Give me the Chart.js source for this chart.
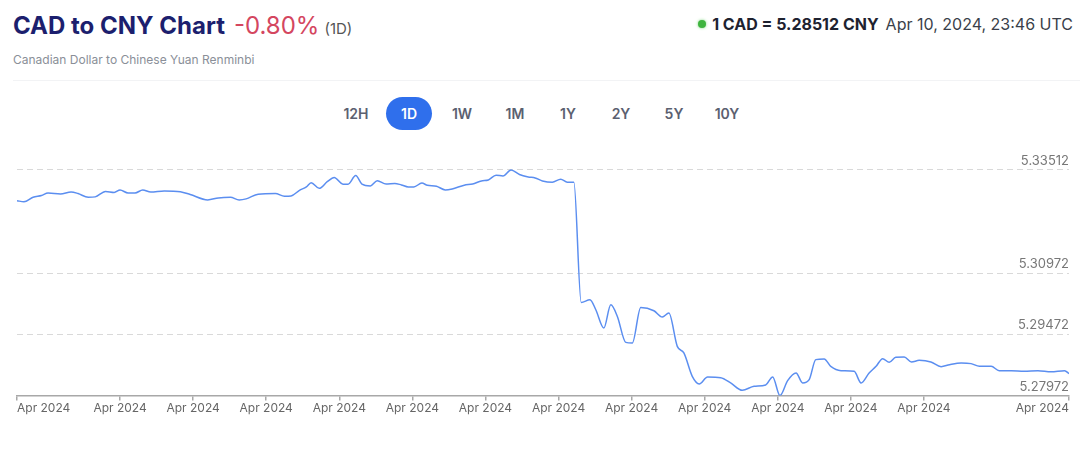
<!DOCTYPE html>
<html>
<head>
<meta charset="utf-8">
<script src="https://cdn.jsdelivr.net/npm/chart.js@4.4.1/dist/chart.umd.min.js"></script>
<style>
  body { margin: 0; width: 1080px; height: 452px; background: #fff; font-family: Inter, "Noto Sans", sans-serif; position: relative; overflow: hidden; }
  .title { position: absolute; left: 13px; top: 11px; white-space: nowrap; }
  .title b { font-size: 24px; color: #1c1f6e; font-weight: 700; }
  .title .chg { font-size: 24px; color: #d4465f; margin-left: 9px; }
  .title .per { font-size: 15px; color: #555; margin-left: 5px; }
  .sub { position: absolute; left: 13px; top: 52px; font-size: 12px; color: #8a8f98; }
  .rate { position: absolute; right: 7px; top: 14px; font-size: 16px; color: #3a3f4a; white-space: nowrap; }
  .rate .dot { display: inline-block; width: 8px; height: 8px; border-radius: 50%; background: #3fb43f; box-shadow: 0 0 3px #7ed67e; margin-right: 6px; vertical-align: 2px; }
  .rate b { color: #1e2230; font-weight: 700; margin-right: 7px; }
  .sep { position: absolute; left: 13px; right: 0; top: 80px; height: 1px; background: #f2f3f5; }
  .ranges { position: absolute; left: 333px; top: 97px; display: flex; gap: 7px; }
  .ranges span { width: 46px; height: 33px; line-height: 33px; text-align: center; font-size: 14px; font-weight: 600; color: #5b6070; border-radius: 17px; }
  .ranges span.on { background: #2f6fec; color: #fff; }
  #box { position: absolute; left: 0; top: 140px; width: 1080px; height: 290px; }
</style>
</head>
<body>
<div class="title"><b>CAD to CNY Chart</b><span class="chg">-0.80%</span><span class="per">(1D)</span></div>
<div class="sub">Canadian Dollar to Chinese Yuan Renminbi</div>
<div class="rate"><span class="dot"></span><b>1 CAD = 5.28512 CNY</b>Apr 10, 2024, 23:46 UTC</div>
<div class="sep"></div>
<div class="ranges"><span>12H</span><span class="on">1D</span><span>1W</span><span>1M</span><span>1Y</span><span>2Y</span><span>5Y</span><span>10Y</span></div>
<div id="box"><canvas id="grafico"></canvas></div>
<script>
// hours since start of the window
const hours = [0, 0.19, 0.44, 0.67, 0.85, 1.19, 1.48, 1.67, 1.95, 2.14, 2.42, 2.66, 2.82, 3.04, 3.23, 3.44, 3.66, 4.03, 4.47, 4.74,
  5.22, 5.51, 5.84, 6.08, 6.27, 6.60, 7.07, 7.32, 7.50, 7.73, 7.92, 8.05, 8.27, 8.49, 8.68, 8.92, 9.06, 9.27, 9.44, 9.67,
  9.86, 10.10, 10.34, 10.52, 10.71, 10.86, 11.08, 11.23, 11.48, 11.72, 11.91, 12.24, 12.47, 12.71, 12.90, 13.11, 13.30, 13.52, 13.75, 13.99,
  14.18, 14.38, 14.65, 14.88, 15.06, 15.24, 15.44, 15.68, 15.84, 16.06, 16.25, 16.43, 16.66, 16.84, 17.07, 17.43, 17.66, 17.84, 18.07, 18.25,
  18.48, 18.67, 18.90, 19.26, 19.53, 19.85, 20.17, 20.49, 20.68, 20.88, 21.09, 21.32, 21.50, 21.68, 21.86, 22.09, 22.27, 22.55, 22.91, 23.10,
  23.32, 23.51, 23.69, 23.87, 24.05, 24.28, 24.48, 24.69, 25.01, 25.29, 25.52, 25.84, 26.11, 26.34, 26.66, 26.88, 27.21, 27.56, 27.94, 28.30,
  28.67, 28.79];
const rates = [5.32758, 5.32731, 5.32841, 5.32885, 5.32944, 5.32924, 5.32973, 5.32934, 5.32841, 5.32851, 5.32985, 5.32961, 5.33022, 5.32944, 5.32944, 5.33022, 5.32968, 5.32998, 5.32978, 5.32909,
  5.32777, 5.32826, 5.32841, 5.32777, 5.32802, 5.32917, 5.32934, 5.32868, 5.32875, 5.33012, 5.33096, 5.33199, 5.33061, 5.33223, 5.33326, 5.33164, 5.33164, 5.33375, 5.33164, 5.33120,
  5.33248, 5.33169, 5.33182, 5.33145, 5.33096, 5.33096, 5.33189, 5.33137, 5.33113, 5.33022, 5.33047, 5.33137, 5.33169, 5.33243, 5.33267, 5.33385, 5.33365, 5.33512, 5.33402, 5.33341,
  5.33316, 5.33243, 5.33211, 5.33285, 5.33211, 5.33211, 5.30259, 5.30326, 5.30080, 5.29632, 5.30203, 5.29916, 5.29279, 5.29264, 5.30137, 5.30056, 5.29901, 5.29999, 5.29181, 5.29019,
  5.28445, 5.28259, 5.28430, 5.28413, 5.28283, 5.28102, 5.28200, 5.28234, 5.28430, 5.27972, 5.28340, 5.28529, 5.28283, 5.28364, 5.28855, 5.28872, 5.28690, 5.28585, 5.28568, 5.28283,
  5.28529, 5.28690, 5.28879, 5.28788, 5.28911, 5.28921, 5.28798, 5.28837, 5.28798, 5.28683, 5.28732, 5.28774, 5.28757, 5.28690, 5.28690, 5.28585, 5.28585, 5.28568, 5.28585, 5.28560,
  5.28585, 5.28512];

const tickHours = [0, 2.82, 4.82, 6.82, 8.82, 10.82, 12.82, 14.82, 16.82, 18.82, 20.82, 22.82, 24.82, 28.79];
const tickLabels = ['Apr 2024', 'Apr 2024', 'Apr 2024', 'Apr 2024', 'Apr 2024', 'Apr 2024', 'Apr 2024',
  'Apr 2024', 'Apr 2024', 'Apr 2024', 'Apr 2024', 'Apr 2024', 'Apr 2024', 'Apr 2024'];
const rateTicks = [5.27972, 5.29472, 5.30972, 5.33512];

const ctx = document.getElementById('grafico');
new Chart(ctx, {
  type: 'line',
  data: {
    datasets: [{
      label: 'CAD/CNY',
      data: hours.map((h, i) => ({ x: h, y: rates[i] })),
      borderColor: '#5b8ef0',
      borderWidth: 1.5,
      pointRadius: 0,
      cubicInterpolationMode: 'monotone',
      fill: false
    }]
  },
  options: {
    responsive: true,
    maintainAspectRatio: false,
    animation: false,
    layout: { padding: { left: 17, right: 11, top: 10, bottom: 13 } },
    plugins: { legend: { display: false }, tooltip: { enabled: false } },
    scales: {
      x: {
        type: 'linear',
        min: 0,
        max: 28.79,
        afterBuildTicks: s => { s.ticks = tickHours.map(v => ({ value: v })); },
        ticks: {
          callback: (v, i) => tickLabels[i],
          align: 'inner',
          autoSkip: false,
          maxRotation: 0,
          padding: 1,
          color: '#666',
          font: { family: 'Inter, "Noto Sans", sans-serif', size: 12 }
        },
        grid: { drawOnChartArea: false, drawTicks: true, tickLength: 5, color: '#a8a8a8', lineWidth: 1.5 },
        border: { display: true, color: '#a8a8a8', width: 1.5 }
      },
      y: {
        position: 'right',
        min: 5.27972,
        max: 5.34002,
        afterBuildTicks: s => { s.ticks = rateTicks.map(v => ({ value: v })); },
        ticks: {
          callback: v => v.toFixed(5),
          mirror: true,
          labelOffset: -9,
          padding: 0,
          color: '#777',
          font: { family: 'Inter, "Noto Sans", sans-serif', size: 13 }
        },
        grid: { drawTicks: false, color: c => c.index === 0 ? 'transparent' : '#d9d9d9' },
        border: { display: false, dash: [6, 4] }
      }
    }
  }
});
</script>
</body>
</html>
